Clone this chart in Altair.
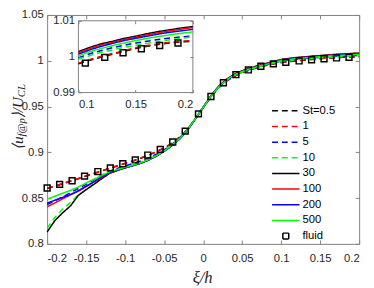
import altair as alt
import pandas as pd

# ---------------- data ----------------
xi = [-0.20, -0.19, -0.18, -0.17, -0.16, -0.15, -0.14, -0.13, -0.12, -0.11, -0.10,
      -0.09, -0.08, -0.07, -0.06, -0.05, -0.04, -0.03, -0.02, -0.01, 0.00,
      0.01, 0.02, 0.03, 0.04, 0.05, 0.06, 0.07, 0.08, 0.09, 0.10,
      0.11, 0.12, 0.13, 0.14, 0.15, 0.16, 0.17, 0.18, 0.19, 0.20]

st_labels = ["St=0.5", "1", "5", "10", "30", "100", "200", "500"]

u_st05 = [0.8604, 0.8630, 0.8657, 0.8683, 0.8711, 0.8742, 0.8769, 0.8795, 0.8824, 0.8850, 0.8878,
          0.8905, 0.8935, 0.8969, 0.9005, 0.9047, 0.9099, 0.9165, 0.9250, 0.9363, 0.9486,
          0.9606, 0.9706, 0.9778, 0.9830, 0.9870, 0.9901, 0.9926, 0.9948, 0.9965, 0.9980,
          0.9990, 0.9999, 1.0007, 1.0015, 1.0023, 1.0029, 1.0034, 1.0038, 1.0041, 1.0043]
u_st1 = [0.8607, 0.8633, 0.8660, 0.8686, 0.8714, 0.8745, 0.8772, 0.8798, 0.8827, 0.8853, 0.8881,
         0.8908, 0.8938, 0.8972, 0.9008, 0.9050, 0.9102, 0.9168, 0.9252, 0.9365, 0.9488,
         0.9608, 0.9708, 0.9780, 0.9832, 0.9872, 0.9903, 0.9928, 0.9950, 0.9967, 0.9982,
         0.9992, 1.0001, 1.0009, 1.0017, 1.0025, 1.0031, 1.0036, 1.0040, 1.0043, 1.0045]
u_st5 = [0.8428, 0.8470, 0.8515, 0.8560, 0.8605, 0.8650, 0.8700, 0.8750, 0.8795, 0.8825, 0.8852,
         0.8878, 0.8905, 0.8940, 0.8980, 0.9028, 0.9088, 0.9158, 0.9250, 0.9366, 0.9489,
         0.9610, 0.9712, 0.9785, 0.9838, 0.9876, 0.9906, 0.9931, 0.9952, 0.9975, 0.9997,
         1.0008, 1.0017, 1.0025, 1.0032, 1.0038, 1.0043, 1.0048, 1.0052, 1.0055, 1.0058]
u_st10 = [0.8170, 0.8290, 0.8380, 0.8455, 0.8535, 0.8595, 0.8658, 0.8718, 0.8772, 0.8803, 0.8832,
          0.8858, 0.8886, 0.8921, 0.8964, 0.9016, 0.9080, 0.9152, 0.9248, 0.9366, 0.9489,
          0.9610, 0.9711, 0.9785, 0.9840, 0.9878, 0.9907, 0.9932, 0.9953, 0.9973, 0.9993,
          1.0003, 1.0012, 1.0019, 1.0026, 1.0032, 1.0037, 1.0042, 1.0047, 1.0051, 1.0055]
u_st30 = [0.8130, 0.8255, 0.8340, 0.8415, 0.8530, 0.8592, 0.8650, 0.8712, 0.8770, 0.8802, 0.8830,
          0.8855, 0.8882, 0.8917, 0.8960, 0.9012, 0.9075, 0.9147, 0.9243, 0.9365, 0.9492,
          0.9618, 0.9722, 0.9797, 0.9853, 0.9890, 0.9920, 0.9947, 0.9970, 0.9992, 1.0014,
          1.0026, 1.0036, 1.0043, 1.0051, 1.0057, 1.0064, 1.0070, 1.0075, 1.0080, 1.0084]
u_st100 = [0.8405, 0.8447, 0.8493, 0.8537, 0.8575, 0.8625, 0.8675, 0.8728, 0.8776, 0.8804, 0.8832,
           0.8856, 0.8883, 0.8918, 0.8961, 0.9013, 0.9076, 0.9148, 0.9244, 0.9366, 0.9491,
           0.9616, 0.9720, 0.9795, 0.9851, 0.9888, 0.9918, 0.9945, 0.9968, 0.9990, 1.0011,
           1.0023, 1.0033, 1.0040, 1.0048, 1.0054, 1.0061, 1.0067, 1.0072, 1.0077, 1.0081]
u_st200 = [0.8445, 0.8477, 0.8508, 0.8538, 0.8580, 0.8630, 0.8680, 0.8733, 0.8780, 0.8806, 0.8833,
           0.8855, 0.8881, 0.8916, 0.8959, 0.9011, 0.9074, 0.9146, 0.9244, 0.9365, 0.9490,
           0.9614, 0.9717, 0.9792, 0.9848, 0.9885, 0.9915, 0.9941, 0.9964, 0.9986, 1.0007,
           1.0019, 1.0029, 1.0037, 1.0045, 1.0051, 1.0057, 1.0063, 1.0068, 1.0072, 1.0076]
u_st500 = [0.8487, 0.8520, 0.8553, 0.8586, 0.8622, 0.8665, 0.8705, 0.8748, 0.8788, 0.8812, 0.8837,
           0.8860, 0.8886, 0.8920, 0.8963, 0.9015, 0.9078, 0.9150, 0.9247, 0.9367, 0.9490,
           0.9612, 0.9714, 0.9789, 0.9845, 0.9882, 0.9911, 0.9937, 0.9959, 0.9981, 1.0002,
           1.0014, 1.0023, 1.0031, 1.0038, 1.0045, 1.0051, 1.0056, 1.0061, 1.0065, 1.0069]

fluid_xi = [-0.200, -0.184, -0.168, -0.152, -0.135, -0.119, -0.103, -0.087, -0.071, -0.055,
            -0.039, -0.023, -0.006, 0.010, 0.026, 0.042, 0.058, 0.074, 0.090, 0.106,
            0.123, 0.139, 0.155, 0.171, 0.187]
fluid_u = [0.8610, 0.8650, 0.8690, 0.8740, 0.8790, 0.8830, 0.8876, 0.8917, 0.8970, 0.9032,
           0.9113, 0.9232, 0.9420, 0.9610, 0.9760, 0.9848, 0.9900, 0.9940, 0.9966, 0.9982,
           0.9998, 1.0011, 1.0022, 1.0031, 1.0038]

x_ticks = [-0.2, -0.15, -0.1, -0.05, 0, 0.05, 0.1, 0.15, 0.2]
y_ticks = [0.8, 0.85, 0.9, 0.95, 1, 1.05]
inset_x_ticks = [0.1, 0.15, 0.2]
inset_y_ticks = [0.99, 1, 1.01]

series_u = [u_st05, u_st1, u_st5, u_st10, u_st30, u_st100, u_st200, u_st500]
series_domain = st_labels + ["fluid"]
color_range = ["#000000", "#ff0000", "#0000ff", "#00ff00",
               "#000000", "#ff0000", "#0000ff", "#00ff00", "#000000"]
dash_range = [[6, 4]] * 4 + [[1, 0]] * 5
shape_range = ["stroke"] * 8 + ["square"]
size_range = [784] * 8 + [36]

rows = []
for lab, us in zip(st_labels, series_u):
    for x, u in zip(xi, us):
        rows.append({"xi": x, "u": u, "St": lab})
lines_df = pd.DataFrame(rows)
fluid_df = pd.DataFrame({"xi": fluid_xi, "u": fluid_u, "St": ["fluid"] * len(fluid_xi)})

inset_lines_df = lines_df[lines_df["xi"] >= inset_x_ticks[0] - 1e-9]
inset_fluid_df = fluid_df[fluid_df["xi"] >= inset_x_ticks[0] - 1e-9]
inset_box_df = pd.DataFrame({"x0": [inset_x_ticks[0]], "x1": [inset_x_ticks[-1]],
                             "y0": [inset_y_ticks[0]], "y1": [inset_y_ticks[-1]]})

# ---------------- layout ----------------
W, H = 319, 234
IX0, IX1 = 32, 149          # inset plot area (pixels inside the main plot)
IY0, IY1 = 79.3, 5.9
FRAME = "#808080"
TXT = "#262626"
LF = "Liberation Sans"
FS = 11.5

xdom = [x_ticks[0], x_ticks[-1]]
ydom = [y_ticks[0], y_ticks[-1]]
ixdom = [inset_x_ticks[0], inset_x_ticks[-1]]
iydom = [inset_y_ticks[0], inset_y_ticks[-1]]


def xs(dom, rng=None):
    if rng is None:
        return alt.Scale(domain=dom, nice=False, zero=False)
    return alt.Scale(domain=dom, range=rng, nice=False, zero=False)


lbl = "'' + datum.value"

legend = alt.Legend(title=None, orient="none", legendX=229, legendY=90,
                    labelFont=LF, labelFontSize=FS, labelColor="#000000",
                    clipHeight=16, rowPadding=0, labelOffset=2, symbolStrokeWidth=1.5,
                    padding=0, offset=0)

color_enc = alt.Color("St:N", scale=alt.Scale(domain=series_domain, range=color_range), legend=legend)
dash_enc = alt.StrokeDash("St:N", scale=alt.Scale(domain=series_domain, range=dash_range), legend=legend)

main_x_axis = alt.Axis(values=x_ticks, labelExpr=lbl, orient="bottom", ticks=False, domain=False,
                       grid=False, title=None, labelFont=LF, labelFontSize=FS, labelColor=TXT,
                       labelPadding=9)
main_y_axis = alt.Axis(values=y_ticks, labelExpr=lbl, orient="left", ticks=False, domain=False,
                       grid=False, title=None, labelFont=LF, labelFontSize=FS, labelColor=TXT,
                       labelPadding=4)

lines = alt.Chart(lines_df).mark_line(strokeWidth=1.5).encode(
    x=alt.X("xi:Q", scale=xs(xdom), axis=main_x_axis),
    y=alt.Y("u:Q", scale=xs(ydom), axis=main_y_axis),
    color=color_enc,
    strokeDash=dash_enc,
)

points = alt.Chart(fluid_df).mark_point(filled=False, strokeWidth=1.5, color="#000000", opacity=1).encode(
    x=alt.X("xi:Q", scale=xs(xdom), axis=None),
    y=alt.Y("u:Q", scale=xs(ydom), axis=None),
    shape=alt.Shape("St:N", scale=alt.Scale(domain=series_domain, range=shape_range), legend=legend),
    size=alt.Size("St:N", scale=alt.Scale(type="ordinal", domain=series_domain, range=size_range), legend=legend),
)


def tick_axis(vals, orient, offset, size=4, z=0):
    return alt.Axis(values=vals, orient=orient, offset=offset, labels=False, domain=False,
                    grid=False, title=None, tickSize=size, tickColor=FRAME, tickWidth=1, zindex=z)


mirror_a = alt.Chart(fluid_df).mark_point(opacity=0).encode(
    x=alt.X("xi:Q", scale=xs(xdom), axis=tick_axis(x_ticks, "top", -H)),
    y=alt.Y("u:Q", scale=xs(ydom), axis=tick_axis(y_ticks, "right", -W)),
)
mirror_b = alt.Chart(fluid_df).mark_point(opacity=0).encode(
    x=alt.X("xi:Q", scale=xs(xdom), axis=tick_axis(x_ticks, "bottom", -H)),
    y=alt.Y("u:Q", scale=xs(ydom), axis=tick_axis(y_ticks, "left", -W)),
)

# ---------------- inset ----------------
ixs = xs(ixdom, [IX0, IX1])
iys = xs(iydom, [IY0, IY1])

inset_box = alt.Chart(inset_box_df).mark_rect(fill="white", stroke=FRAME, strokeWidth=1).encode(
    x=alt.X("x0:Q", scale=ixs, axis=None),
    x2="x1:Q",
    y=alt.Y("y0:Q", scale=iys, axis=None),
    y2="y1:Q",
)

inset_x_axis = alt.Axis(values=inset_x_ticks, labelExpr=lbl, orient="bottom", offset=-(H - IY0),
                        ticks=False, domain=False, grid=False, title=None, labelFont=LF,
                        labelFontSize=FS, labelColor=TXT, labelPadding=6)
inset_y_axis = alt.Axis(values=inset_y_ticks, labelExpr=lbl, orient="left", offset=-IX0,
                        ticks=False, domain=False, grid=False, title=None, labelFont=LF,
                        labelFontSize=FS, labelColor=TXT, labelPadding=4)

inset_lines = alt.Chart(inset_lines_df).mark_line(strokeWidth=1.5).encode(
    x=alt.X("xi:Q", scale=ixs, axis=inset_x_axis),
    y=alt.Y("u:Q", scale=iys, axis=inset_y_axis),
    color=alt.Color("St:N", scale=alt.Scale(domain=series_domain, range=color_range)),
    strokeDash=alt.StrokeDash("St:N", scale=alt.Scale(domain=series_domain, range=dash_range)),
)
inset_points = alt.Chart(inset_fluid_df).mark_point(
    shape="square", size=36, filled=False, strokeWidth=1.5, color="#000000", opacity=1
).encode(
    x=alt.X("xi:Q", scale=ixs, axis=None),
    y=alt.Y("u:Q", scale=iys, axis=None),
)
inset_mirror_a = alt.Chart(inset_fluid_df).mark_point(opacity=0).encode(
    x=alt.X("xi:Q", scale=ixs, axis=tick_axis(inset_x_ticks, "top", -IY0, 3, 1)),
    y=alt.Y("u:Q", scale=iys, axis=tick_axis(inset_y_ticks, "right", -(W - IX0), 3, 1)),
)
inset_mirror_b = alt.Chart(inset_fluid_df).mark_point(opacity=0).encode(
    x=alt.X("xi:Q", scale=ixs, axis=tick_axis(inset_x_ticks, "bottom", -(H - IY1), 3, 1)),
    y=alt.Y("u:Q", scale=iys, axis=tick_axis(inset_y_ticks, "left", -IX1, 3, 1)),
)

# ---------------- axis titles (LaTeX-like) ----------------
SERIF = "Liberation Serif"


def txt(s, x, y, size, angle=0, align="left", baseline="alphabetic"):
    return alt.Chart(pd.DataFrame({"t": [s]})).mark_text(
        font=SERIF, fontStyle="italic", fontSize=size, color=TXT, angle=angle,
        align=align, baseline=baseline
    ).encode(x=alt.value(x), y=alt.value(y), text="t:N")


BX = -25
SUB = 2.5
BIG, SMALL = 15.5, 11
ty0 = 138
t1 = txt("\u27e8u", BX, ty0, BIG, 270)
t2 = txt("f@p", BX + SUB, ty0 - 13.8, SMALL, 270)
t3 = txt("\u27e9/U", BX, ty0 - 13.8 - 18.7, BIG, 270)
t4 = txt("CL", BX + SUB, ty0 - 13.8 - 18.7 - 21.5, SMALL, 270)
xt = txt("\u03be/h", 159, H + 40, 17, 0, "center")

chart = alt.layer(
    mirror_a, mirror_b, lines, points,
    inset_box, inset_lines, inset_points, inset_mirror_a, inset_mirror_b,
    t1, t2, t3, t4, xt,
).resolve_scale(x="independent", y="independent").resolve_axis(
    x="independent", y="independent"
).properties(
    width=W, height=H,
    autosize=alt.AutoSizeParams(type="none"),
    padding={"left": 40, "top": 4, "right": 7, "bottom": 44},
).configure_view(stroke=FRAME, strokeWidth=1).configure_axis(grid=False)

chart.save("out.html", embed_options={"renderer": "svg", "actions": False})
